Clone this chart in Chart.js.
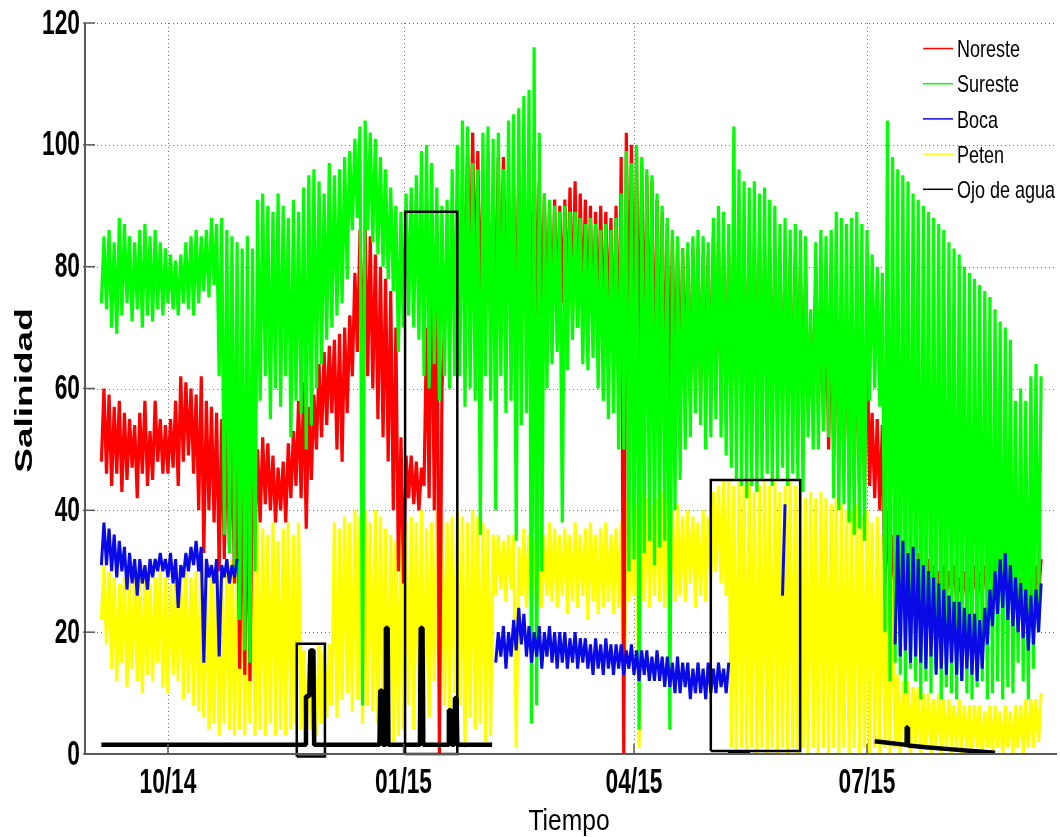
<!DOCTYPE html>
<html>
<head>
<meta charset="utf-8">
<title>Salinidad</title>
<script src="https://cdn.jsdelivr.net/npm/chart.js@4.4.1/dist/chart.umd.min.js"></script>
<style>
  html, body { margin: 0; padding: 0; background: #ffffff; }
  #wrap { width: 1060px; height: 837px; }
</style>
</head>
<body>
<div id="wrap"><canvas id="salinity" width="1060" height="837"></canvas></div>
<script>
(() => {
    'use strict';

    // x axis is in days counted from 1 Oct 2014
    const X_MIN = -32.4;
    const X_MAX = 347.2;
    const tickDays = [0, 92, 182, 273];
    const tickLabels = ['10/14', '01/15', '04/15', '07/15'];
    const yTicks = [0, 20, 40, 60, 80, 100, 120];

    // every series is logged as the (low, high) range seen in each 2-day window,
    // the first window starting on day -26; each row below covers 20 days
    const FIRST_DAY = -26;
    const STEP_DAYS = 2;

    const noresteHigh = [
        60, 59, 57, 58, 56, 55, 54, 56, 58, 53,
        58, 55, 54, 55, 58, 62, 61, 60, 59, 62,
        58, 57, 56, 55, 54, 53, 52, 50, 49, 48,
        50, 52, 51, 49, 47, 48, 51, 53, 58, 61,
        57, 59, 64, 66, 67, 68, 69, 70, 72, 79,
        86, 87, 85, 82, 80, 78, 76, 70, 52, 49,
        49, 48, 47, 70, 84, 87, 60, 84, 86, 88,
        92, 100, 102, 99, 94, 92, 93, 98, 98, 92,
        93, 96, 94, 95, 99, 94, 92, 90, 91, 90,
        91, 93, 94, 92, 91, 90, 89, 90, 89, 88,
        90, 98, 102, 100, 99, 97, 95, 94, 91, 89,
        87, 85, 84, 83, 82, 83, 83, 82, 82, 85,
        84, 83, 82, 85, 84, 83, 84, 83, 84, 82,
        83, 82, 81, 82, 81, 82, 80, 79, 70, 80,
        78, 77, 76, 75, 75, 74, 73, 72, 71, 70,
        56, 55, 54, 40, 36, 35, 34, 33, 32, 33,
        31, 32, 31, 30, 31, 30, 31, 29, 30, 29,
        31, 30, 31, 32, 33, 32, 31, 30, 30, 29,
        30, 29, 31, 32,
    ];
    const noresteLow = [
        48, 46, 44, 46, 43, 45, 47, 42, 46, 44,
        45, 48, 46, 46, 47, 44, 48, 49, 46, 40,
        33, 40, 38, 30, 32, 34, 28, 14, 13, 12,
        36, 38, 41, 40, 38, 40, 38, 42, 44, 42,
        37, 45, 50, 52, 54, 56, 50, 48, 56, 62,
        66, 64, 62, 60, 55, 52, 48, 40, 30, 28,
        42, 41, 40, 44, 42, 40, 0, 70, 72, 72,
        74, 76, 76, 74, 72, 72, 70, 72, 70, 72,
        70, 72, 70, 72, 72, 72, 70, 70, 72, 72,
        74, 72, 72, 70, 72, 70, 68, 70, 68, 70,
        64, 60, 0, 66, 62, 60, 62, 60, 58, 58,
        58, 58, 56, 58, 60, 58, 60, 58, 60, 58,
        60, 58, 60, 58, 60, 58, 60, 58, 60, 58,
        60, 58, 56, 58, 58, 56, 56, 56, 56, 58,
        56, 54, 50, 48, 47, 46, 45, 45, 44, 44,
        44, 42, 40, 28, 27, 26, 26, 25, 25, 26,
        25, 26, 25, 26, 25, 26, 27, 25, 26, 25,
        26, 25, 26, 27, 28, 27, 27, 26, 25, 26,
        25, 24, 25, 26,
    ];

    const suresteHigh = [
        85, 86, 84, 88, 87, 85, 84, 86, 87, 85,
        86, 84, 83, 82, 81, 82, 84, 85, 86, 85,
        86, 88, 87, 88, 86, 85, 84, 83, 85, 83,
        91, 92, 90, 89, 92, 90, 88, 91, 89, 93,
        95, 96, 94, 92, 97, 95, 96, 98, 99, 101,
        103, 104, 102, 101, 98, 96, 93, 90, 89, 92,
        93, 95, 99, 100, 97, 93, 90, 91, 96, 100,
        104, 103, 97, 96, 102, 103, 101, 102, 96, 104,
        105, 106, 108, 109, 116, 102, 92, 91, 90, 89,
        90, 89, 89, 88, 87, 88, 87, 86, 87, 86,
        88, 92, 99, 97, 100, 98, 96, 95, 92, 90,
        88, 86, 85, 83, 84, 85, 86, 85, 84, 88,
        90, 89, 87, 103, 96, 94, 93, 94, 92, 93,
        91, 90, 87, 88, 86, 87, 86, 85, 73, 84,
        86, 85, 86, 89, 88, 87, 88, 89, 87, 86,
        82, 80, 79, 104, 98, 96, 95, 94, 92, 91,
        90, 89, 88, 87, 86, 84, 83, 82, 80, 79,
        78, 77, 76, 75, 73, 71, 70, 68, 58, 60,
        58, 62, 64, 62,
    ];
    const suresteLow = [
        74, 73, 70, 69, 72, 74, 71, 73, 70, 72,
        71, 73, 72, 74, 73, 72, 74, 73, 72, 74,
        76, 75, 77, 62, 36, 33, 30, 22, 17, 15,
        30, 58, 62, 55, 60, 57, 62, 52, 58, 56,
        50, 54, 60, 64, 68, 70, 72, 74, 78, 86,
        88, 8, 86, 84, 82, 80, 78, 76, 66, 70,
        72, 70, 68, 62, 60, 64, 58, 62, 60, 62,
        62, 57, 60, 58, 36, 62, 58, 40, 62, 56,
        58, 35, 54, 56, 5, 8, 30, 60, 64, 66,
        38, 63, 68, 70, 64, 63, 65, 60, 58, 55,
        56, 50, 50, 30, 32, 4, 33, 35, 31, 34,
        35, 4, 40, 45, 50, 52, 56, 54, 50, 52,
        55, 52, 49, 47, 45, 44, 42, 44, 43, 45,
        46, 44, 45, 47, 44, 46, 45, 43, 52, 50,
        50, 53, 52, 42, 40, 41, 38, 36, 37, 35,
        58, 60, 57, 20, 12, 15, 13, 10, 14, 12,
        9, 12, 10, 14, 9, 11, 10, 9, 12, 10,
        9, 11, 12, 9, 10, 12, 9, 11, 10, 15,
        12, 9, 14, 20,
    ];

    // null: no record in that window
    const bocaHigh = [
        38, 37, 36, 35, 34, 33, 32, 32, 31, 32,
        32, 33, 32, 33, 32, 31, 33, 34, 35, 34,
        32, 31, 32, 31, 32, 31, 32, null, null, null,
        null, null, null, null, null, null, null, null, null, null,
        null, null, null, null, null, null, null, null, null, null,
        null, null, null, null, null, null, null, null, null, null,
        null, null, null, null, null, null, null, null, null, null,
        null, null, null, null, null, null, null, 20, 21, 20,
        22, 24, 23, 21, 20, 21, 20, 21, 20, 20,
        20, 19, 20, 19, 19, 18, 19, 18, 19, 18,
        18, 18, 17, 18, 17, 17, 17, 16, 17, 16,
        16, 15, 16, 15, 15, 14, 15, 14, 15, 14,
        15, 14, 15, null, null, null, null, null, null, null,
        null, null, null, 41, null, null, null, null, null, null,
        null, null, null, null, null, null, null, null, null, null,
        null, null, null, null, null, 36, 35, 33, 34, 32,
        31, 30, 29, 28, 27, 26, 25, 25, 24, 23,
        23, 22, 24, 27, 30, 32, 33, 31, 29, 28,
        27, 26, 27, 28,
    ];
    const bocaLow = [
        31, 31, 30, 29, 30, 27, 28, 26, 28, 27,
        29, 30, 30, 29, 28, 24, 29, 30, 31, 30,
        15, 29, 28, 16, 29, 28, 29, null, null, null,
        null, null, null, null, null, null, null, null, null, null,
        null, null, null, null, null, null, null, null, null, null,
        null, null, null, null, null, null, null, null, null, null,
        null, null, null, null, null, null, null, null, null, null,
        null, null, null, null, null, null, null, 15, 16, 14,
        16, 17, 18, 16, 15, 16, 14, 16, 15, 14,
        15, 14, 15, 14, 15, 14, 13, 14, 13, 14,
        13, 14, 13, 14, 13, 12, 13, 12, 12, 12,
        11, 11, 10, 10, 11, 9, 10, 10, 9, 10,
        10, 11, 10, null, null, null, null, null, null, null,
        null, null, null, 26, null, null, null, null, null, null,
        null, null, null, null, null, null, null, null, null, null,
        null, null, null, null, null, 18, 16, 17, 15, 16,
        15, 14, 16, 13, 14, 13, 15, 13, 12, 14,
        13, 12, 14, 18, 21, 23, 24, 22, 21, 20,
        19, 17, 18, 20,
    ];

    const petenHigh = [
        31, 30, 29, 28, 29, 28, 29, 30, 29, 28,
        29, 30, 29, 28, 30, 29, 30, 29, 30, 31,
        31, 30, 31, 30, 31, 32, 33, 36, 37, 36,
        38, 37, 36, 38, 35, 37, 38, 36, 38, 17,
        15, 16, 18, 17, 18, 38, 37, 39, 38, 40,
        39, 40, 38, 40, 39, 37, 36, 35, 37, 38,
        39, 38, 40, 37, 38, 40, 39, 38, 39, 40,
        39, 38, 40, 39, 38, 37, 36, 36, 35, 36,
        36, 34, 37, 36, 35, 37, 36, 38, 37, 36,
        37, 36, 38, 36, 37, 38, 36, 37, 38, 36,
        37, 38, 42, 43, 41, 43, 42, 41, 42, 43,
        42, 40, 41, 39, 40, 39, 38, 40, 39, 43,
        44, 45, 45, 44, 45, 44, 45, 43, 44, 45,
        44, 45, 43, 44, 45, 44, 43, 42, 43, 42,
        43, 42, 41, 42, 41, 40, 40, 41, 39, 40,
        38, 39, 36, 35, 33, 13, 12, 12, 11, 11,
        10, 10, 9, 10, 9, 9, 8, 9, 8, 8,
        8, 8, 7, 8, 8, 7, 8, 7, 8, 8,
        9, 9, 9, 10,
    ];
    const petenLow = [
        22, 18, 14, 12, 15, 11, 14, 12, 10, 13,
        12, 15, 11, 10, 13, 12, 9, 10, 8, 7,
        6, 4, 5, 3, 5, 4, 3, 4, 3, 5,
        3, 4, 3, 5, 3, 4, 3, 4, 5, 4,
        3, 4, 3, 5, 6, 8, 6, 9, 10, 7,
        9, 5, 8, 7, 5, 4, 3, 2, 3, 4,
        8, 4, 10, 3, 6, 12, 4, 8, 5, 10,
        8, 1, 6, 4, 5, 2, 3, 26, 27, 25,
        27, 1, 26, 24, 27, 25, 24, 26, 25, 24,
        26, 23, 25, 24, 26, 22, 25, 23, 24, 25,
        23, 24, 1, 25, 26, 1, 25, 24, 26, 25,
        24, 26, 25, 26, 25, 28, 24, 26, 25, 29,
        30, 28, 26, 1, 0, 1, 0, 1, 0, 1,
        0, 1, 0, 1, 0, 1, 0, 1, 0, 1,
        0, 1, 0, 1, 0, 1, 0, 1, 0, 1,
        0, 1, 0, 1, 0, 1, 0, 1, 0, 1,
        0, 1, 0, 1, 0, 1, 0, 1, 0, 1,
        0, 1, 0, 1, 0, 1, 0, 1, 0, 1,
        0, 1, 1, 2,
    ];

    // Ojo de agua: a near-flat record with short spikes; null splits the record
    const ojoDays = [
        -26, 53.6, 53.9, 55.2, 55.6, 56.8, 57.1, 82.6, 82.9, 83.6,
        83.9, 84.8, 85.1, 85.8, 86.1, 98.4, 98.7, 99.4, 99.7, 109.4,
        109.7, 110.5, 110.8, 111.8, 112.1, 112.7, 113.0, 126.6, 170,
        218.7, 227.3, 250,
        276, 282, 288.3, 288.5, 288.8, 289, 296, 305, 314, 323,
    ];
    const ojoValues = [
        1.5, 1.5, 9.5, 9.5, 17, 17, 1.5, 1.5, 10.4, 10.4,
        1.5, 1.5, 20.7, 20.7, 1.5, 1.5, 20.7, 20.7, 1.5, 1.5,
        7.2, 7.2, 1.5, 1.5, 9.2, 9.2, 1.5, 1.5, null,
        0.3, 0.3, null,
        2.1, 1.8, 1.5, 4.4, 4.4, 1.4, 1.1, 0.8, 0.5, 0.2,
    ];

    // framed periods: first day, last day, bottom, top
    const frameStart = [50.3, 92.6, 212.0];
    const frameEnd = [61.3, 113.0, 246.9];
    const frameBottom = [-0.4, 0, 0.5];
    const frameTop = [18.1, 89, 45];

    const seriesNames = ['Noreste', 'Sureste', 'Boca', 'Peten', 'Ojo de agua'];
    const seriesColors = ['#ff0000', '#00ff00', '#0a0ae6', '#ffff00', '#000000'];

    const FONT = '"Liberation Sans", Arial, sans-serif';

    const sampleDays = suresteHigh.map((_, i) => FIRST_DAY + i * STEP_DAYS);

    // each window is drawn as a stroke from its low to its high
    const zigzag = (high, low) => {
        const points = [];
        sampleDays.forEach((day, i) => {
            if (high[i] === null) {
                points.push({ x: day, y: null });
                return;
            }
            points.push({ x: day, y: low[i] });
            points.push({ x: day + STEP_DAYS / 2, y: high[i] });
        });
        return points;
    };

    const lineSeries = (index, data, order, width) => ({
        label: seriesNames[index],
        data,
        borderColor: seriesColors[index],
        backgroundColor: seriesColors[index],
        borderWidth: width,
        borderJoinStyle: 'bevel',
        pointRadius: 0,
        fill: false,
        order,
    });

    const ojoPoints = ojoDays.map((day, i) => ({ x: day, y: ojoValues[i] }));

    const frames = frameStart.map((x0, i) => ({
        label: 'frame' + i,
        data: [
            { x: x0, y: frameBottom[i] },
            { x: frameEnd[i], y: frameBottom[i] },
            { x: frameEnd[i], y: frameTop[i] },
            { x: x0, y: frameTop[i] },
            { x: x0, y: frameBottom[i] },
        ],
        borderColor: '#000000',
        borderWidth: 2.5,
        borderJoinStyle: 'miter',
        pointRadius: 0,
        fill: false,
        clip: false,
        order: 0,
    }));

    // lower order is painted last, so Peten sits at the bottom of the stack
    const datasets = [
        lineSeries(3, zigzag(petenHigh, petenLow), 5, 3.2),
        lineSeries(0, zigzag(noresteHigh, noresteLow), 4, 3.2),
        lineSeries(1, zigzag(suresteHigh, suresteLow), 3, 3.2),
        lineSeries(2, zigzag(bocaHigh, bocaLow), 2, 3.0),
        lineSeries(4, ojoPoints, 1, 4.5),
        ...frames,
    ];

    const squeezed = (ctx, text, x, y, font, sx, align, baseline) => {
        ctx.save();
        ctx.translate(x, y);
        ctx.scale(sx, 1);
        ctx.font = font;
        ctx.textAlign = align;
        ctx.textBaseline = baseline;
        ctx.fillText(text, 0, 0);
        ctx.restore();
    };

    const decor = {
        id: 'salinityDecor',
        beforeDatasetsDraw(chart) {
            const { ctx, chartArea: area, scales } = chart;
            ctx.save();
            ctx.strokeStyle = '#707070';
            ctx.lineWidth = 1;
            ctx.setLineDash([1, 3]);
            yTicks.forEach((v) => {
                if (v === 0) {
                    return;
                }
                const y = Math.round(scales.y.getPixelForValue(v)) + 0.5;
                ctx.beginPath();
                ctx.moveTo(area.left, y);
                ctx.lineTo(area.right, y);
                ctx.stroke();
            });
            tickDays.forEach((d) => {
                const x = Math.round(scales.x.getPixelForValue(d)) + 0.5;
                ctx.beginPath();
                ctx.moveTo(x, area.top);
                ctx.lineTo(x, area.bottom);
                ctx.stroke();
            });
            ctx.restore();
        },
        afterDatasetsDraw(chart) {
            const { ctx, chartArea: area, scales } = chart;
            ctx.save();

            // axes with inward tick marks
            ctx.strokeStyle = '#5a5a5a';
            ctx.lineWidth = 2;
            ctx.beginPath();
            ctx.moveTo(area.left, area.top);
            ctx.lineTo(area.left, area.bottom);
            ctx.lineTo(area.right, area.bottom);
            ctx.stroke();

            ctx.lineWidth = 1.5;
            yTicks.forEach((v) => {
                const y = scales.y.getPixelForValue(v);
                ctx.beginPath();
                ctx.moveTo(area.left - 2, y);
                ctx.lineTo(area.left + 10, y);
                ctx.stroke();
            });
            tickDays.forEach((d) => {
                const x = scales.x.getPixelForValue(d);
                ctx.beginPath();
                ctx.moveTo(x, area.bottom);
                ctx.lineTo(x, area.bottom - 10);
                ctx.stroke();
            });

            // tick labels
            ctx.fillStyle = '#000000';
            const tickFont = 'bold 35px ' + FONT;
            yTicks.forEach((v) => {
                squeezed(ctx, String(v), area.left - 5, scales.y.getPixelForValue(v) + 1,
                    tickFont, 0.65, 'right', 'middle');
            });
            tickDays.forEach((d, i) => {
                squeezed(ctx, tickLabels[i], scales.x.getPixelForValue(d), area.bottom + 39,
                    tickFont, 0.65, 'center', 'alphabetic');
            });

            // axis titles
            squeezed(ctx, 'Tiempo', (area.left + area.right) / 2 - 2, area.bottom + 76,
                '30px ' + FONT, 0.82, 'center', 'alphabetic');
            ctx.save();
            ctx.translate(32, (area.top + area.bottom) / 2 + 2);
            ctx.rotate(-Math.PI / 2);
            ctx.scale(1, 0.66);
            ctx.font = 'bold 37px ' + FONT;
            ctx.textAlign = 'center';
            ctx.textBaseline = 'alphabetic';
            ctx.fillText('Salinidad', 0, 0);
            ctx.restore();

            // legend
            const legendX = 923;
            const legendTop = 48.5;
            const legendStep = 35.2;
            seriesNames.forEach((name, i) => {
                const y = legendTop + i * legendStep;
                ctx.strokeStyle = seriesColors[i];
                ctx.lineWidth = 1.5;
                ctx.beginPath();
                ctx.moveTo(legendX, y);
                ctx.lineTo(legendX + 30, y);
                ctx.stroke();
                ctx.fillStyle = '#000000';
                squeezed(ctx, name, legendX + 34, y + 8.6, '24px ' + FONT, 0.75, 'left', 'alphabetic');
            });

            ctx.restore();
        },
    };

    new Chart(document.getElementById('salinity'), {
        type: 'line',
        data: { datasets },
        plugins: [decor],
        options: {
            responsive: false,
            animation: false,
            devicePixelRatio: 1,
            layout: {
                padding: { left: 85, right: 3, top: 23, bottom: 83 },
            },
            scales: {
                x: {
                    type: 'linear',
                    display: false,
                    min: X_MIN,
                    max: X_MAX,
                },
                y: {
                    type: 'linear',
                    display: false,
                    min: 0,
                    max: 120,
                },
            },
            plugins: {
                legend: { display: false },
                tooltip: { enabled: false },
            },
        },
    });
})();
</script>
</body>
</html>
